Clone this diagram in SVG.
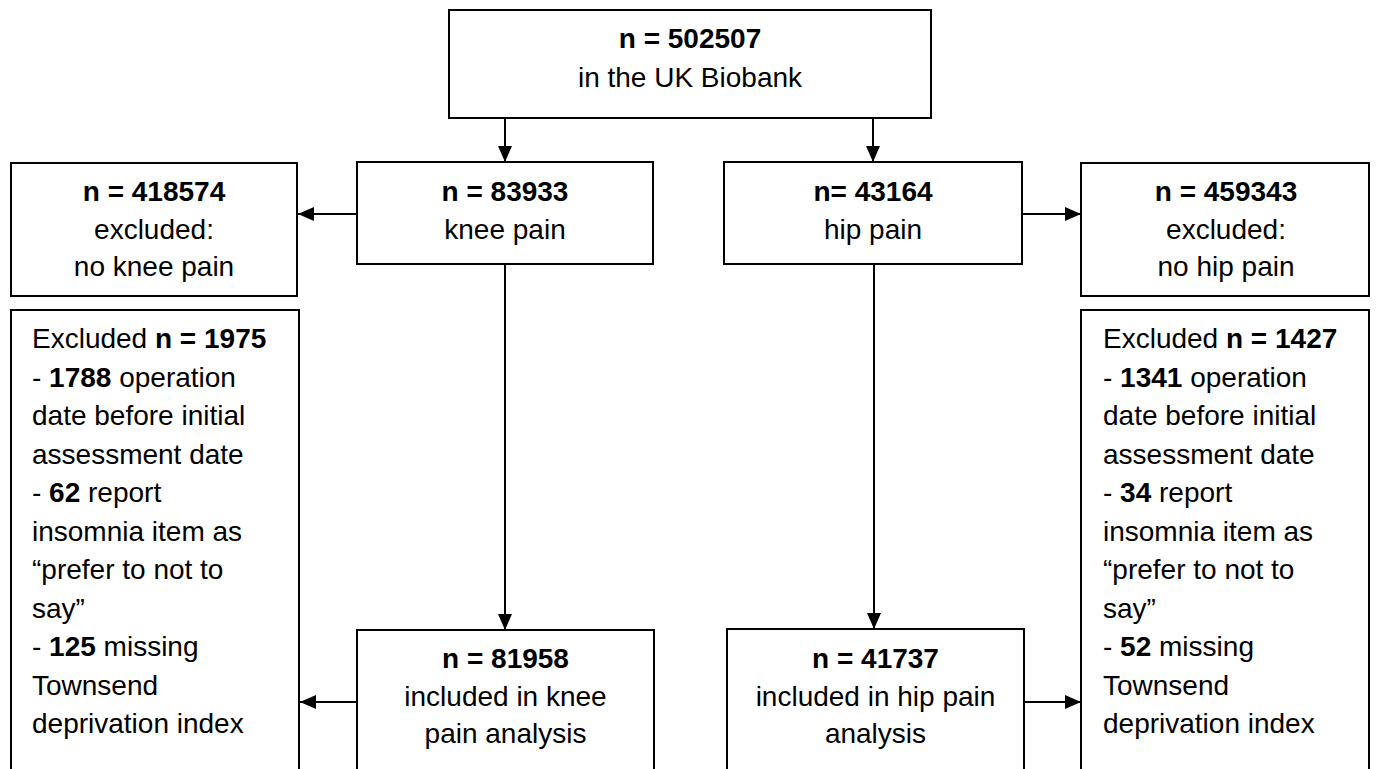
<svg xmlns="http://www.w3.org/2000/svg" width="1376" height="769" viewBox="0 0 1376 769">
<defs>
<marker id="ah" viewBox="0 0 16 14" refX="16" refY="7" markerWidth="16" markerHeight="14" markerUnits="userSpaceOnUse" orient="auto">
<path d="M0,0 L16,7 L0,14 Z" fill="#000"/>
</marker>
<style>
.box{fill:#fff;stroke:#000;stroke-width:2}
.t{font-family:"Liberation Sans",Arial,sans-serif;font-size:28px;fill:#000}
.c{text-anchor:middle}
.b{font-weight:bold}
.conn{stroke:#000;stroke-width:2;fill:none;marker-end:url(#ah)}
</style>
</defs>
<rect width="1376" height="769" fill="#fff"/>
<g id="connectors">
<line class="conn" x1="505" y1="118" x2="505" y2="162"/>
<line class="conn" x1="873" y1="118" x2="873" y2="162"/>
<line class="conn" x1="357" y1="214" x2="298" y2="214"/>
<line class="conn" x1="1022" y1="214" x2="1081" y2="214"/>
<line class="conn" x1="505" y1="264" x2="505" y2="630"/>
<line class="conn" x1="874" y1="264" x2="874" y2="629"/>
<line class="conn" x1="357" y1="702" x2="300" y2="702"/>
<line class="conn" x1="1024" y1="702" x2="1081" y2="702"/>
</g>
<g id="total">
<rect class="box" x="449" y="10" width="482" height="108"/>
<text class="t c b" x="690" y="48">n = 502507</text>
<text class="t c" x="690" y="87">in the UK Biobank</text>
</g>
<g id="knee">
<rect class="box" x="357" y="162" width="296" height="102"/>
<text class="t c b" x="505" y="201">n = 83933</text>
<text class="t c" x="505" y="239">knee pain</text>
</g>
<g id="hip">
<rect class="box" x="724" y="162" width="298" height="102"/>
<text class="t c b" x="873" y="201">n= 43164</text>
<text class="t c" x="873" y="239">hip pain</text>
</g>
<g id="knee-excluded">
<rect class="box" x="11" y="163" width="286" height="133"/>
<text class="t c b" x="154" y="201">n = 418574</text>
<text class="t c" x="154" y="239">excluded:</text>
<text class="t c" x="154" y="276">no knee pain</text>
</g>
<g id="hip-excluded">
<rect class="box" x="1081" y="163" width="288" height="133"/>
<text class="t c b" x="1226" y="201">n = 459343</text>
<text class="t c" x="1226" y="239">excluded:</text>
<text class="t c" x="1226" y="276">no hip pain</text>
</g>
<g id="knee-excl-detail">
<rect class="box" x="11" y="310" width="288" height="480"/>
<text class="t" x="32" y="348">Excluded <tspan class="b">n = 1975</tspan></text>
<text class="t" x="32" y="386.5">- <tspan class="b">1788</tspan> operation</text>
<text class="t" x="32" y="425">date before initial</text>
<text class="t" x="32" y="463.5">assessment date</text>
<text class="t" x="32" y="502">- <tspan class="b">62</tspan> report</text>
<text class="t" x="32" y="540.5">insomnia item as</text>
<text class="t" x="32" y="579">“prefer to not to</text>
<text class="t" x="32" y="617.5">say”</text>
<text class="t" x="32" y="656">- <tspan class="b">125</tspan> missing</text>
<text class="t" x="32" y="694.5">Townsend</text>
<text class="t" x="32" y="733">deprivation index</text>
</g>
<g id="hip-excl-detail">
<rect class="box" x="1081" y="310" width="288" height="480"/>
<text class="t" x="1103" y="348">Excluded <tspan class="b">n = 1427</tspan></text>
<text class="t" x="1103" y="386.5">- <tspan class="b">1341</tspan> operation</text>
<text class="t" x="1103" y="425">date before initial</text>
<text class="t" x="1103" y="463.5">assessment date</text>
<text class="t" x="1103" y="502">- <tspan class="b">34</tspan> report</text>
<text class="t" x="1103" y="540.5">insomnia item as</text>
<text class="t" x="1103" y="579">“prefer to not to</text>
<text class="t" x="1103" y="617.5">say”</text>
<text class="t" x="1103" y="656">- <tspan class="b">52</tspan> missing</text>
<text class="t" x="1103" y="694.5">Townsend</text>
<text class="t" x="1103" y="733">deprivation index</text>
</g>
<g id="knee-included">
<rect class="box" x="357" y="630" width="297" height="160"/>
<text class="t c b" x="505.5" y="668">n = 81958</text>
<text class="t c" x="505.5" y="706">included in knee</text>
<text class="t c" x="505.5" y="743">pain analysis</text>
</g>
<g id="hip-included">
<rect class="box" x="727" y="629" width="297" height="160"/>
<text class="t c b" x="875.5" y="668">n = 41737</text>
<text class="t c" x="875.5" y="706">included in hip pain</text>
<text class="t c" x="875.5" y="743">analysis</text>
</g>
</svg>
